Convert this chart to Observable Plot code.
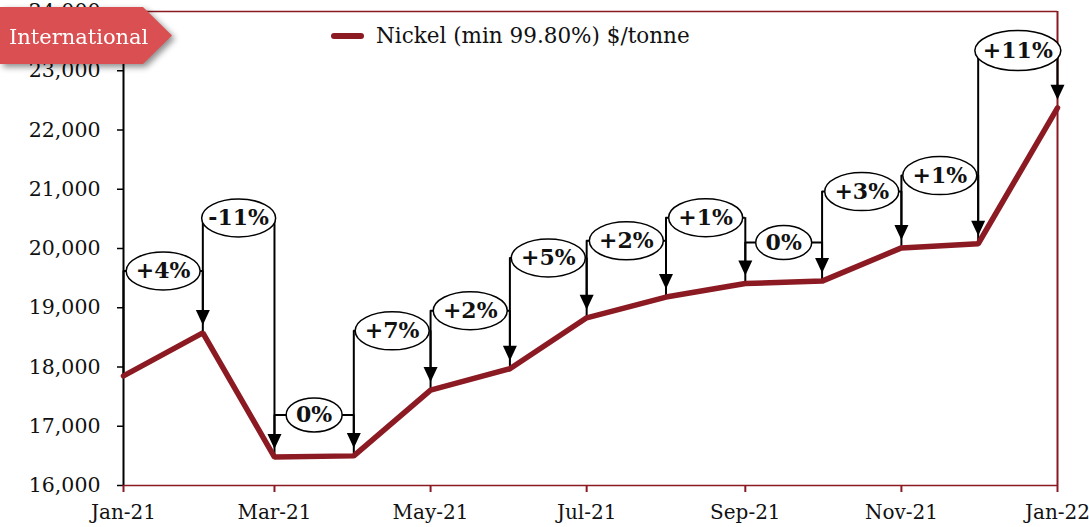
<!DOCTYPE html>
<html>
<head>
<meta charset="utf-8">
<script src="https://cdn.jsdelivr.net/npm/d3@7"></script>
<script src="https://cdn.jsdelivr.net/npm/@observablehq/plot@0.6"></script>
<style>
  html, body { margin: 0; padding: 0; background: #fff; }
  #wrap { position: relative; width: 1089px; height: 527px; overflow: hidden; font-family: 'DejaVu Serif', serif; }
  #badge { position: absolute; left: 0; top: 7px; filter: drop-shadow(3px 3px 3px rgba(0,0,0,0.45)); }
  #legend { position: absolute; left: 331px; top: 23px; display: flex; align-items: center; font-size: 21.5px; color: #111; }
  #legend .sw { width: 33px; height: 6px; border-radius: 3px; background: #8B1A23; margin-right: 12px; }
</style>
</head>
<body>
<div id="wrap">
  <div id="chart"></div>
  <div id="legend"><div class="sw"></div><span>Nickel (min 99.80%) $/tonne</span></div>
  <svg id="badge" width="180" height="64">
    <polygon points="0,0 143,0 172,28.5 143,57 0,57" fill="#DA5052"></polygon>
    <text x="9" y="37" fill="#fff" font-size="21" font-family="'DejaVu Serif', serif">International</text>
  </svg>
</div>
<script>
// ---- data ----
const dates = ["2021-01-01","2021-02-01","2021-03-01","2021-04-01","2021-05-01","2021-06-01","2021-07-01","2021-08-01","2021-09-01","2021-10-01","2021-11-01","2021-12-01","2022-01-01"];
const prices = [17850, 18575, 16480, 16500, 17610, 17970, 18830, 19180, 19410, 19450, 20010, 20080, 22375];
const changeLabels = ["+4%","-11%","0%","+7%","+2%","+5%","+2%","+1%","0%","+3%","+1%","+11%"];
const labelLevels = [19620, 20515, 17190, 18610, 18950, 19840, 20130, 20520, 20100, 20960, 21230, 23340];
const yTicks = [16000, 17000, 18000, 19000, 20000, 21000, 22000, 23000, 24000];
const xTicks = ["2021-01-01","2021-03-01","2021-05-01","2021-07-01","2021-09-01","2021-11-01","2022-01-01"];

const maroon = "#8B1A23";
const series = dates.map((d, i) => ({date: new Date(d), price: prices[i]}));
const trans = changeLabels.map((label, i) => {
  const from = new Date(dates[i]), to = new Date(dates[i + 1]);
  return {label, from, to, mid: new Date((+from + +to) / 2), level: labelLevels[i], v0: prices[i], v1: prices[i + 1]};
});

function ellipseSymbol(rx, ry) {
  const k = 0.5523;
  return {
    draw(c) {
      c.moveTo(-rx, 0);
      c.bezierCurveTo(-rx, -ry * k, -rx * k, -ry, 0, -ry);
      c.bezierCurveTo(rx * k, -ry, rx, -ry * k, rx, 0);
      c.bezierCurveTo(rx, ry * k, rx * k, ry, 0, ry);
      c.bezierCurveTo(-rx * k, ry, -rx, ry * k, -rx, 0);
      c.closePath();
    }
  };
}
const arrowDown = {
  draw(c) { c.moveTo(0, 0); c.lineTo(-7, -15); c.lineTo(7, -15); c.closePath(); }
};
const kind = d => d.label === "0%" ? "narrow" : d.label === "+11%" ? "wide" : "normal";

const chart = Plot.plot({
  width: 1089,
  height: 527,
  marginLeft: 123,
  marginRight: 32,
  marginTop: 11,
  marginBottom: 42,
  style: {fontFamily: "'DejaVu Serif', serif", fontSize: "20px", background: "#fff", color: "#000", overflow: "visible"},
  x: {type: "utc", domain: [new Date(dates[0]), new Date(dates[dates.length - 1])]},
  y: {domain: [16000, 24000]},
  marks: [
    Plot.ruleY([24000], {stroke: maroon, strokeWidth: 1.5}),
    Plot.ruleX([new Date(dates[dates.length - 1])], {stroke: maroon, strokeWidth: 2}),
    Plot.axisY({ticks: yTicks, tickFormat: d3.format(","), tickSize: 6, tickPadding: 17, label: null, stroke: "#000", strokeWidth: 1.5, fill: "#111", fontSize: 20.5}),
    Plot.ruleX([new Date(dates[0])], {stroke: "#000", strokeWidth: 2}),
    Plot.axisX({ticks: xTicks.map(d => new Date(d)), tickFormat: d3.utcFormat("%b-%y"), tickSize: 7, tickPadding: 12, label: null, stroke: maroon, strokeWidth: 2, fill: "#111", fontSize: 20}),
    Plot.ruleY([16000], {stroke: maroon, strokeWidth: 1.5}),
    Plot.ruleY(trans, {y: "level", x1: "from", x2: "to", stroke: "#000", strokeWidth: 2}),
    Plot.ruleX(trans, {x: "from", y1: "level", y2: "v0", stroke: "#000", strokeWidth: 2}),
    Plot.ruleX(trans, {x: "to", y1: "level", y2: "v1", insetBottom: 20, stroke: "#000", strokeWidth: 2}),
    Plot.line(series, {x: "date", y: "price", stroke: maroon, strokeWidth: 5.5, strokeLinejoin: "miter"}),
    Plot.dot(trans.filter(d => kind(d) === "normal"), {x: "mid", y: "level", symbol: ellipseSymbol(37, 19), fill: "#fff", stroke: "#000", strokeWidth: 1.5}),
    Plot.dot(trans.filter(d => kind(d) === "narrow"), {x: "mid", y: "level", symbol: ellipseSymbol(28, 17), fill: "#fff", stroke: "#000", strokeWidth: 1.5}),
    Plot.dot(trans.filter(d => kind(d) === "wide"), {x: "mid", y: "level", symbol: ellipseSymbol(43, 20), fill: "#fff", stroke: "#000", strokeWidth: 1.5}),
    Plot.dot(trans, {x: "to", y: "v1", symbol: arrowDown, fill: "#000", stroke: null, dy: -8}),
    Plot.text(trans, {x: "mid", y: "level", text: "label", fontWeight: "bold", fontSize: 22, fill: "#111"})
  ]
});
document.getElementById("chart").appendChild(chart);
</script>
</body>
</html>
